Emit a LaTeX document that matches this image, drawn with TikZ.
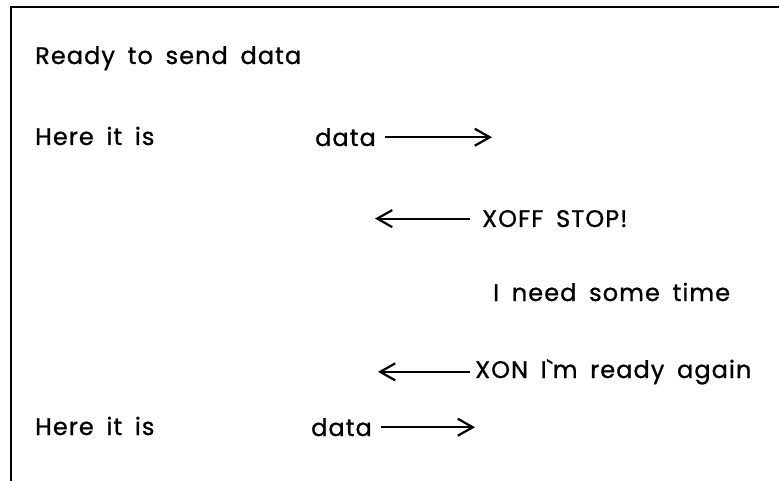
\documentclass[tikz,border=0pt]{standalone}
\usepackage{fontspec}
\setmainfont{Poppins}[LetterSpace=4.5,WordSpace=1.7,FakeBold=1]
\usetikzlibrary{arrows.meta}
\tikzset{
  msgtext/.style={anchor=base west,inner sep=0pt,font=\fontsize{24}{28}\selectfont},
  msg/.style={line width=2.2pt,-{Straight Barb[length=15pt,width=17pt,line width=2.2pt]}}
}
\begin{document}
\begin{tikzpicture}[x=1pt,y=-1pt]
\useasboundingbox (0,0) rectangle (779,481);
\draw[line width=2.4pt] (11,481) -- (11,7) -- (779,7);
\node[msgtext] (ready) at (35,64) {Ready to send data};
\node[msgtext] (here1) at (35,145) {Here it is};
\node[msgtext] (data1) at (315,146) {data};
\node[msgtext] (xoff) at (482,227) {XOFF STOP!};
\node[msgtext] (wait) at (493,301) {I need some time};
\node[msgtext] (xon) at (475,378) {XON I\textasciigrave m ready again};
\node[msgtext] (here2) at (35,435) {Here it is};
\node[msgtext] (data2) at (311,436) {data};
\coordinate (right1) at (492,0);
\coordinate (left1) at (375,0);
\coordinate (left2) at (378,0);
\coordinate (right2) at (475,0);
\coordinate (sendA) at (data1.east -| right1);
\coordinate (stopA) at (xoff.west -| left1);
\coordinate (goA) at (xon.west -| left2);
\coordinate (sendB) at (data2.east -| right2);
\draw[msg,shorten <=9pt] (data1.east) -- (sendA);
\draw[msg,shorten <=12pt] (xoff.west) -- (stopA);
\draw[msg,shorten <=5pt] (xon.west) -- (goA);
\draw[msg,shorten <=9pt] (data2.east) -- (sendB);
\end{tikzpicture}
\end{document}
